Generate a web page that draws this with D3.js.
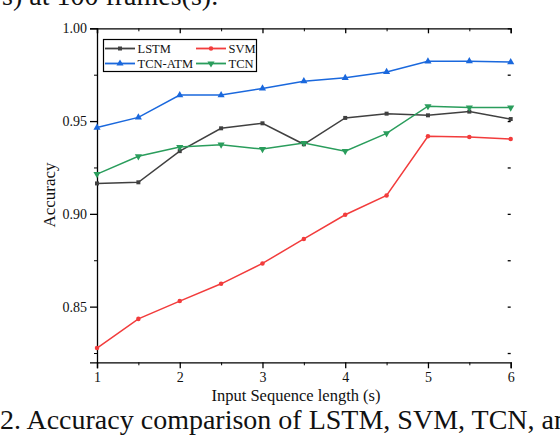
<!DOCTYPE html>
<html>
<head>
<meta charset="utf-8">
<script src="https://cdn.jsdelivr.net/npm/d3@7"></script>
<style>
  body { margin: 0; background: #fff; }
  svg { display: block; }
  text { font-family: "Liberation Serif", "Times New Roman", serif; fill: #111; }
</style>
</head>
<body>
<div id="chart"></div>
<script>
// data
const seqLen = [1, 1.5, 2, 2.5, 3, 3.5, 4, 4.5, 5, 5.5, 6];
const lstm   = [0.9164, 0.917, 0.9338, 0.9461, 0.9488, 0.9375, 0.9517, 0.954, 0.9531, 0.9551, 0.9511];
const svm    = [0.8277, 0.8434, 0.853, 0.8623, 0.8733, 0.8865, 0.8995, 0.9099, 0.9418, 0.9414, 0.9403];
const tcnAtm = [0.9465, 0.952, 0.964, 0.964, 0.9676, 0.9715, 0.9733, 0.9765, 0.9822, 0.9823, 0.9818];
const tcn    = [0.9214, 0.931, 0.936, 0.9373, 0.9349, 0.9382, 0.9338, 0.9434, 0.958, 0.9573, 0.9573];
const xTicks = [1, 2, 3, 4, 5, 6];
const yTicks = [0.85, 0.90, 0.95, 1.00];

const W = 560, H = 436;
const margin = { top: 28.3, right: 49.3, bottom: 73.7, left: 97 };
const width = W - margin.left - margin.right;
const height = H - margin.top - margin.bottom;

const svg = d3.select("#chart").append("svg")
  .attr("width", W)
  .attr("height", H);

// caption fragments around the figure (cut by the crop, as in the source)
svg.append("text")
  .attr("x", 2).attr("y", 5)
  .style("font-size", "28px")
  .text("s) at 100 frames(s).");

svg.append("text")
  .attr("x", 0).attr("y", 429)
  .style("font-size", "28px")
  .text("2. Accuracy comparison of LSTM, SVM, TCN, and");

const g = svg.append("g")
  .attr("transform", "translate(" + margin.left + "," + margin.top + ")");

const x = d3.scaleLinear().domain([1, 6]).range([0, width]);
const y = d3.scaleLinear().domain([0.82, 1.0]).range([height, 0]);

// bottom axis
const xMinor = d3.range(1.5, 6, 1);
g.append("g")
  .attr("transform", "translate(0," + height + ")")
  .call(d3.axisBottom(x).tickValues(xTicks).tickFormat(d3.format("d")).tickSize(6).tickPadding(4))
  .call(a => a.select(".domain").attr("stroke-width", 1.3))
  .call(a => a.selectAll(".tick line").attr("stroke-width", 1.3))
  .call(a => a.selectAll("text").style("font-size", "14px").attr("font-family", "Liberation Serif"));
g.append("g")
  .attr("transform", "translate(0," + height + ")")
  .call(d3.axisBottom(x).tickValues(xMinor).tickSize(3).tickFormat(""))
  .call(a => a.select(".domain").remove());

// left axis
const yMinor = [0.825, 0.875, 0.925, 0.975];
g.append("g")
  .call(d3.axisLeft(y).tickValues(yTicks).tickFormat(d3.format(".2f")).tickSize(7).tickPadding(3))
  .call(a => a.select(".domain").attr("stroke-width", 1.3))
  .call(a => a.selectAll(".tick line").attr("stroke-width", 1.3))
  .call(a => a.selectAll("text").style("font-size", "14px").attr("font-family", "Liberation Serif"));
g.append("g")
  .call(d3.axisLeft(y).tickValues(yMinor).tickSize(3).tickFormat(""))
  .call(a => a.select(".domain").remove());

// top axis, ticks inward, no labels
g.append("g")
  .call(d3.axisBottom(x).tickValues(xTicks).tickSize(5).tickFormat(""))
  .call(a => a.select(".domain").attr("stroke-width", 1.3))
  .call(a => a.selectAll(".tick line").attr("stroke-width", 1.3));
g.append("g")
  .call(d3.axisBottom(x).tickValues(xMinor).tickSize(3).tickFormat(""))
  .call(a => a.select(".domain").remove());

// right side: inward ticks only
g.append("g")
  .attr("transform", "translate(" + width + ",0)")
  .call(d3.axisLeft(y).tickValues(yTicks.concat(yMinor)).tickSize(3).tickFormat(""))
  .call(a => a.select(".domain").remove())
  .call(a => a.selectAll(".tick line").attr("stroke-width", 1.3));

// series
const series = [
  { name: "LSTM",    values: lstm,   color: "#404040", marker: d3.symbolSquare },
  { name: "SVM",     values: svm,    color: "#f23c3c", marker: d3.symbolCircle },
  { name: "TCN-ATM", values: tcnAtm, color: "#1a68dd", marker: d3.symbolTriangle },
  { name: "TCN",     values: tcn,    color: "#2a9d5c", marker: "down" }
];

const line = d3.line()
  .x((d, i) => x(seqLen[i]))
  .y(d => y(d));

function drawMarker(sel, s, cx, cy) {
  if (s.marker === "down") {
    sel.append("path")
      .attr("d", d3.symbol(d3.symbolTriangle, 22)())
      .attr("transform", "translate(" + cx + "," + cy + ") rotate(180)")
      .attr("fill", s.color);
  } else {
    sel.append("path")
      .attr("d", d3.symbol(s.marker, s.marker === d3.symbolTriangle ? 22 : 16)())
      .attr("transform", "translate(" + cx + "," + cy + ")")
      .attr("fill", s.color);
  }
}

series.forEach(s => {
  g.append("path")
    .datum(s.values)
    .attr("fill", "none")
    .attr("stroke", s.color)
    .attr("stroke-width", 1.5)
    .attr("d", line);
  const mg = g.append("g");
  s.values.forEach((v, i) => drawMarker(mg, s, x(seqLen[i]), y(v)));
});

// legend
const leg = svg.append("g");
leg.append("rect")
  .attr("x", 103.5).attr("y", 39.5)
  .attr("width", 153).attr("height", 32)
  .attr("fill", "#fff")
  .attr("stroke", "#000")
  .attr("stroke-width", 1.2);

const legPos = [
  { s: series[0], x: 105, y: 48.5 },
  { s: series[1], x: 196, y: 48.5 },
  { s: series[2], x: 105, y: 63.5 },
  { s: series[3], x: 196, y: 63.5 }
];
legPos.forEach(p => {
  leg.append("line")
    .attr("x1", p.x).attr("x2", p.x + 30)
    .attr("y1", p.y).attr("y2", p.y)
    .attr("stroke", p.s.color)
    .attr("stroke-width", 1.8);
  drawMarker(leg, p.s, p.x + 15, p.y);
  leg.append("text")
    .attr("x", p.x + 32.5)
    .attr("y", p.y + 4.5)
    .style("font-size", "12.5px")
    .text(p.s.name);
});

// axis titles
svg.append("text")
  .attr("text-anchor", "middle")
  .attr("x", 296)
  .attr("y", 401)
  .style("font-size", "16.5px")
  .text("Input Sequence length (s)");

svg.append("text")
  .attr("text-anchor", "middle")
  .attr("transform", "translate(54.5,195) rotate(-90)")
  .style("font-size", "17px")
  .text("Accuracy");
</script>
</body>
</html>
